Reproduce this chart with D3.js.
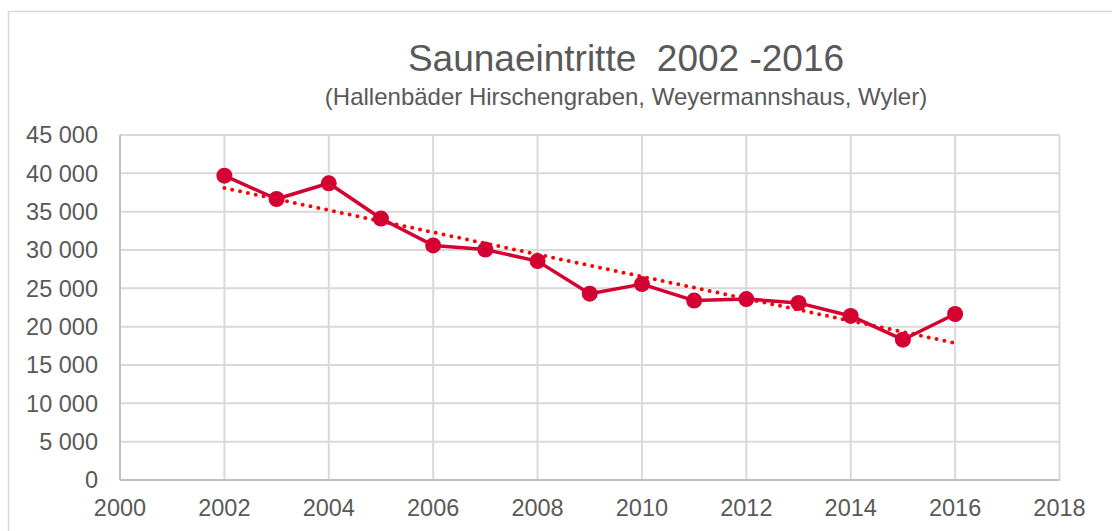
<!DOCTYPE html>
<html>
<head>
<meta charset="utf-8">
<script src="https://cdn.jsdelivr.net/npm/d3@7"></script>
<style>
  body { margin: 0; background: #fff; }
  text { font-family: "Liberation Sans", Arial, sans-serif; fill: #595959; white-space: pre; }
</style>
</head>
<body>
<svg id="chart" width="1112" height="531"></svg>
<script>
const years = [2002, 2003, 2004, 2005, 2006, 2007, 2008, 2009, 2010, 2011, 2012, 2013, 2014, 2015, 2016];
const visits = [39700, 36650, 38700, 34100, 30600, 30050, 28550, 24300, 25550, 23400, 23600, 23100, 21400, 18300, 21650];
const yTicks = [0, 5000, 10000, 15000, 20000, 25000, 30000, 35000, 40000, 45000];
const xTicks = [2000, 2002, 2004, 2006, 2008, 2010, 2012, 2014, 2016, 2018];
const title = "Saunaeintritte  2002 -2016";
const subtitle = "(Hallenbäder Hirschengraben, Weyermannshaus, Wyler)";

const width = 1112, height = 531;
const margin = {top: 135, right: 52.5, bottom: 51, left: 120};
const lineColor = "#d50032";
const gridColor = "#d9d9d9";

const svg = d3.select("#chart");

const x = d3.scaleLinear([2000, 2018], [margin.left, width - margin.right]);
const y = d3.scaleLinear([0, 45000], [height - margin.bottom, margin.top]);

// outer chart frame (runs off the right and bottom edges)
svg.append("path")
  .attr("d", `M8.5,${height + 5} L8.5,11.5 L${width + 5},11.5`)
  .attr("fill", "none")
  .attr("stroke", gridColor)
  .attr("stroke-width", 1.5);

// gridlines
svg.append("g").selectAll("line.h")
  .data(yTicks)
  .join("line")
    .attr("x1", margin.left).attr("x2", width - margin.right)
    .attr("y1", d => y(d)).attr("y2", d => y(d))
    .attr("stroke", gridColor)
    .attr("stroke-width", 2);

svg.append("g").selectAll("line.v")
  .data(xTicks)
  .join("line")
    .attr("x1", d => x(d)).attr("x2", d => x(d))
    .attr("y1", margin.top).attr("y2", height - margin.bottom)
    .attr("stroke", gridColor)
    .attr("stroke-width", 2);

// axes lines a bit darker
svg.append("line")
  .attr("x1", margin.left).attr("x2", width - margin.right)
  .attr("y1", y(0)).attr("y2", y(0))
  .attr("stroke", "#bfbfbf").attr("stroke-width", 2);
svg.append("line")
  .attr("x1", margin.left).attr("x2", margin.left)
  .attr("y1", y(0)).attr("y2", y(45000))
  .attr("stroke", "#bfbfbf").attr("stroke-width", 2);

// tick labels
const fmt = d => d3.format(",")(d).replace(/,/g, " ");
svg.append("g").selectAll("text")
  .data(yTicks)
  .join("text")
    .attr("x", 98)
    .attr("y", d => y(d))
    .attr("dy", "0.35em")
    .attr("text-anchor", "end")
    .attr("font-size", "23.5px")
    .text(fmt);

svg.append("g").selectAll("text")
  .data(xTicks)
  .join("text")
    .attr("x", d => x(d))
    .attr("y", 516)
    .attr("text-anchor", "middle")
    .attr("font-size", "23.5px")
    .text(d => d);

// linear trendline (least squares over the series)
const mx = d3.mean(years), my = d3.mean(visits);
const slope = d3.sum(years, (d, i) => (d - mx) * (visits[i] - my)) / d3.sum(years, d => (d - mx) ** 2);
const trend = years.map(d => my + slope * (d - mx));

svg.append("path")
  .datum(years)
  .attr("fill", "none")
  .attr("stroke", "#ff0000")
  .attr("stroke-width", 4)
  .attr("stroke-linecap", "round")
  .attr("stroke-dasharray", "0 8")
  .attr("d", d3.line().x(d => x(d)).y((d, i) => y(trend[i])));

// data line + markers
svg.append("path")
  .datum(visits)
  .attr("fill", "none")
  .attr("stroke", lineColor)
  .attr("stroke-width", 3.5)
  .attr("stroke-linejoin", "round")
  .attr("d", d3.line().x((d, i) => x(years[i])).y(d => y(d)));

svg.append("g").selectAll("circle")
  .data(visits)
  .join("circle")
    .attr("cx", (d, i) => x(years[i]))
    .attr("cy", d => y(d))
    .attr("r", 8)
    .attr("fill", lineColor);

// titles
svg.append("text")
  .attr("x", 626).attr("y", 71)
  .attr("text-anchor", "middle")
  .attr("font-size", "37px")
  .text(title);

svg.append("text")
  .attr("x", 626).attr("y", 105)
  .attr("text-anchor", "middle")
  .attr("font-size", "24px")
  .text(subtitle);
</script>
</body>
</html>
